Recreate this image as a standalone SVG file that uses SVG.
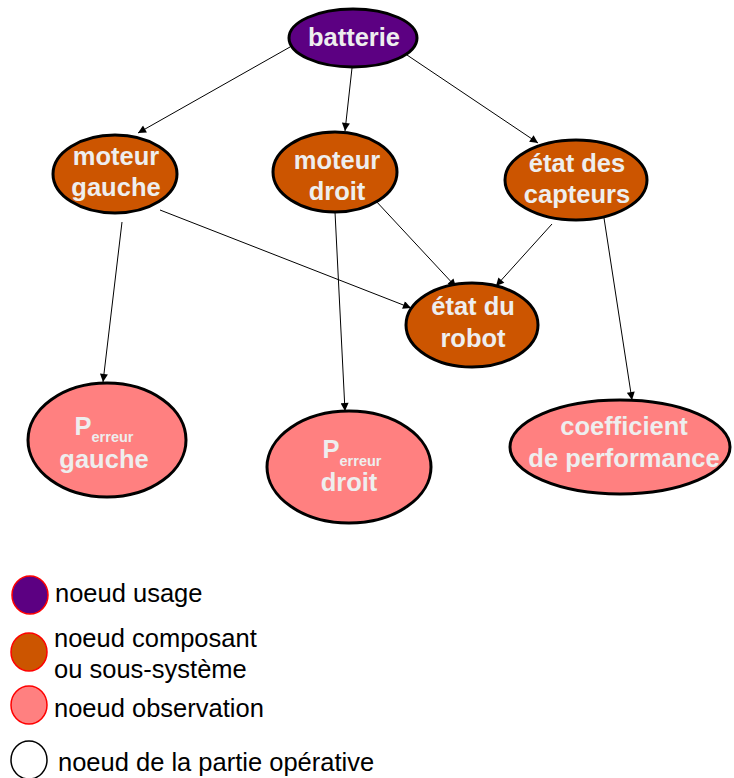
<svg xmlns="http://www.w3.org/2000/svg" width="734" height="778" viewBox="0 0 734 778">
<style>
.node{stroke:#000;stroke-width:3}
.usage{fill:#5C0082}
.comp{fill:#CC5500}
.obs{fill:#FF8080}
.lbl{font-family:"Liberation Sans",Arial,sans-serif;font-weight:bold;font-size:25.5px;fill:#EEEEEE;text-anchor:middle}
.sub{font-size:14.5px}
.edge{stroke:#000;stroke-width:1;fill:none;marker-end:url(#arr)}
.leg{font-family:"Liberation Sans",Arial,sans-serif;font-size:25.5px;fill:#000}
.legc{stroke:#FF0000;stroke-width:1.5}
</style>
<defs>
<marker id="arr" viewBox="0 0 10 10" refX="10" refY="5" markerWidth="11" markerHeight="8" markerUnits="userSpaceOnUse" orient="auto">
<path d="M0,0 L10,5 L0,10 z" fill="#000"/>
</marker>
</defs>
<rect width="734" height="778" fill="#fff"/>
<g id="connectors">
<line class="edge" x1="290" y1="47" x2="138" y2="133"/>
<line class="edge" x1="352" y1="68" x2="345" y2="131"/>
<line class="edge" x1="407" y1="55" x2="538" y2="143"/>
<line class="edge" x1="160" y1="210" x2="411" y2="308"/>
<line class="edge" x1="122" y1="222" x2="103" y2="382"/>
<line class="edge" x1="375" y1="200" x2="456" y2="287"/>
<line class="edge" x1="335" y1="212" x2="345" y2="411"/>
<line class="edge" x1="552" y1="224" x2="496" y2="286"/>
<line class="edge" x1="604" y1="218" x2="632" y2="400"/>
</g>
<g id="batterie">
<ellipse class="node usage" cx="353" cy="38" rx="64" ry="29"/>
<text class="lbl" x="354" y="46">batterie</text>
</g>
<g id="moteur-gauche">
<ellipse class="node comp" cx="115" cy="174" rx="62" ry="39"/>
<text class="lbl" x="116" y="165">moteur</text>
<text class="lbl" x="116" y="196">gauche</text>
</g>
<g id="moteur-droit">
<ellipse class="node comp" cx="335" cy="172" rx="62" ry="40"/>
<text class="lbl" x="337" y="169">moteur</text>
<text class="lbl" x="337" y="200">droit</text>
</g>
<g id="etat-capteurs">
<ellipse class="node comp" cx="576" cy="180" rx="71" ry="40"/>
<text class="lbl" x="577" y="172">état des</text>
<text class="lbl" x="577" y="203">capteurs</text>
</g>
<g id="etat-robot">
<ellipse class="node comp" cx="472" cy="325" rx="66" ry="42"/>
<text class="lbl" x="473" y="315">état du</text>
<text class="lbl" x="473" y="347">robot</text>
</g>
<g id="p-gauche">
<ellipse class="node obs" cx="107" cy="440" rx="79" ry="57"/>
<text class="lbl" x="104" y="435">P<tspan class="sub" dy="7">erreur</tspan></text>
<text class="lbl" x="104" y="468">gauche</text>
</g>
<g id="p-droit">
<ellipse class="node obs" cx="349" cy="467" rx="82" ry="56"/>
<text class="lbl" x="352" y="458">P<tspan class="sub" dy="8">erreur</tspan></text>
<text class="lbl" x="349" y="491">droit</text>
</g>
<g id="coefficient">
<ellipse class="node obs" cx="620" cy="447" rx="110" ry="47"/>
<text class="lbl" x="624" y="435">coefficient</text>
<text class="lbl" x="624" y="467">de performance</text>
</g>
<g id="legend">
<ellipse class="legc usage" cx="30" cy="595" rx="18" ry="19"/>
<text class="leg" x="55" y="602">noeud usage</text>
<ellipse class="legc comp" cx="29" cy="652" rx="18" ry="19"/>
<text class="leg" x="54" y="647">noeud composant</text>
<text class="leg" x="54" y="678">ou sous-système</text>
<ellipse class="legc obs" cx="29" cy="705" rx="18" ry="19"/>
<text class="leg" x="54" y="717">noeud observation</text>
<ellipse cx="29" cy="760" rx="18" ry="19" fill="#fff" stroke="#000" stroke-width="1.5"/>
<text class="leg" x="58" y="771">noeud de la partie opérative</text>
</g>
</svg>
